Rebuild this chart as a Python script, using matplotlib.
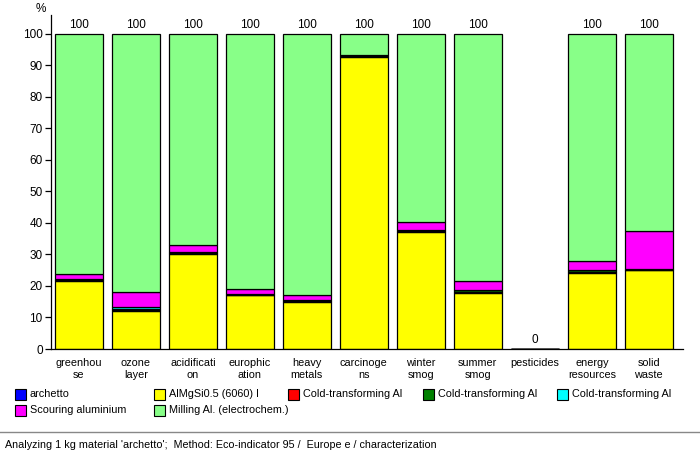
import matplotlib
matplotlib.use("Agg")
import matplotlib.pyplot as plt
from matplotlib.patches import Rectangle
import numpy as np

categories = [
    "greenhou\nse", "ozone\nlayer", "acidificati\non", "europhic\nation",
    "heavy\nmetals", "carcinoge\nns", "winter\nsmog", "summer\nsmog",
    "pesticides", "energy\nresources", "solid\nwaste",
]
series_names = [
    "archetto", "AlMgSi0.5 (6060) I", "Cold-transforming Al",
    "Cold-transforming Al", "Cold-transforming Al",
    "Scouring aluminium", "Milling Al. (electrochem.)",
]
series_colors = ["#0000ff", "#ffff00", "#ff0000", "#008000", "#00ffff",
                 "#ff00ff", "#88ff88"]

archetto = [0, 0, 0, 0, 0, 0, 0, 0, 0, 0, 0]
almgsi = [21.5, 12.0, 30.2, 17.1, 14.9, 92.8, 37.0, 17.7, 0, 24.2, 25.1]
cold_red = [0.3, 0.5, 0.3, 0.1, 0.3, 0.1, 0.3, 0.3, 0, 0.3, 0.1]
cold_green = [0.3, 0.3, 0.3, 0.1, 0.3, 0.2, 0.4, 0.6, 0, 0.6, 0.1]
cold_cyan = [0.1, 0.4, 0.1, 0.1, 0.1, 0.1, 0.1, 0.1, 0, 0.1, 0.1]
scouring = [1.6, 4.9, 2.1, 1.6, 1.5, 0, 2.5, 2.8, 0, 2.7, 12.1]
milling = [76.2, 81.9, 67.0, 81.0, 82.9, 6.8, 59.7, 78.5, 0, 72.1, 62.5]
totals = [100, 100, 100, 100, 100, 100, 100, 100, 0, 100, 100]
yticks = [0, 10, 20, 30, 40, 50, 60, 70, 80, 90, 100]

plt.rcParams["font.family"] = ["Liberation Sans", "DejaVu Sans"]
plt.rcParams["font.size"] = 8

fig = plt.figure(figsize=(7.0, 4.55), dpi=100)
ax = fig.add_axes([51 / 700, 1 - 349 / 455, 632 / 700, 334 / 455])

x = np.arange(len(categories))
bottom = np.zeros(len(categories))
stack = [archetto, almgsi, cold_red, cold_green, cold_cyan, scouring, milling]
for values, color in zip(stack, series_colors):
    values = np.array(values, dtype=float)
    ax.bar(x, values, 0.84, bottom=bottom, color=color,
           edgecolor="black", linewidth=0.9)
    bottom += values

for xi, total in zip(x, totals):
    ax.text(xi, total + 2.8, str(total), ha="center", va="center", fontsize=8.5)

ax.set_xlim(-0.49, 10.6)
ax.set_ylim(0, 106)
ax.set_yticks(yticks)
ax.set_yticklabels([str(v) for v in yticks], fontsize=8.5)
ax.set_xticks(x)
ax.set_xticklabels(categories, fontsize=7.8, linespacing=1.3)
ax.tick_params(axis="x", length=0, pad=6.5)
ax.tick_params(axis="y", length=4, width=0.9, pad=2)
for side in ["top", "right"]:
    ax.spines[side].set_visible(False)
for side in ["left", "bottom"]:
    ax.spines[side].set_linewidth(0.9)
fig.text(41 / 700, 1 - 9 / 455, "%", ha="center", va="center", fontsize=8.5)

# legend grid
col_x = [15, 154, 288, 423, 557]
row_y = [394, 410]
for i, (name, color) in enumerate(zip(series_names, series_colors)):
    cx = col_x[i % 5]
    cy = row_y[i // 5]
    fig.add_artist(Rectangle((cx / 700, 1 - (cy + 5.5) / 455), 11 / 700, 11 / 455,
                             transform=fig.transFigure, facecolor=color,
                             edgecolor="black", linewidth=0.8))
    fig.text((cx + 15) / 700, 1 - cy / 455, name, ha="left", va="center",
             fontsize=7.8)

fig.add_artist(plt.Line2D([0, 1], [1 - 432 / 455, 1 - 432 / 455],
                          transform=fig.transFigure, color="#888888", linewidth=1))
fig.text(5 / 700, 1 - 445 / 455,
         "Analyzing 1 kg material 'archetto';  Method: Eco-indicator 95 /  Europe e / characterization",
         ha="left", va="center", fontsize=7.75)

fig.savefig("out.png", dpi=100)
